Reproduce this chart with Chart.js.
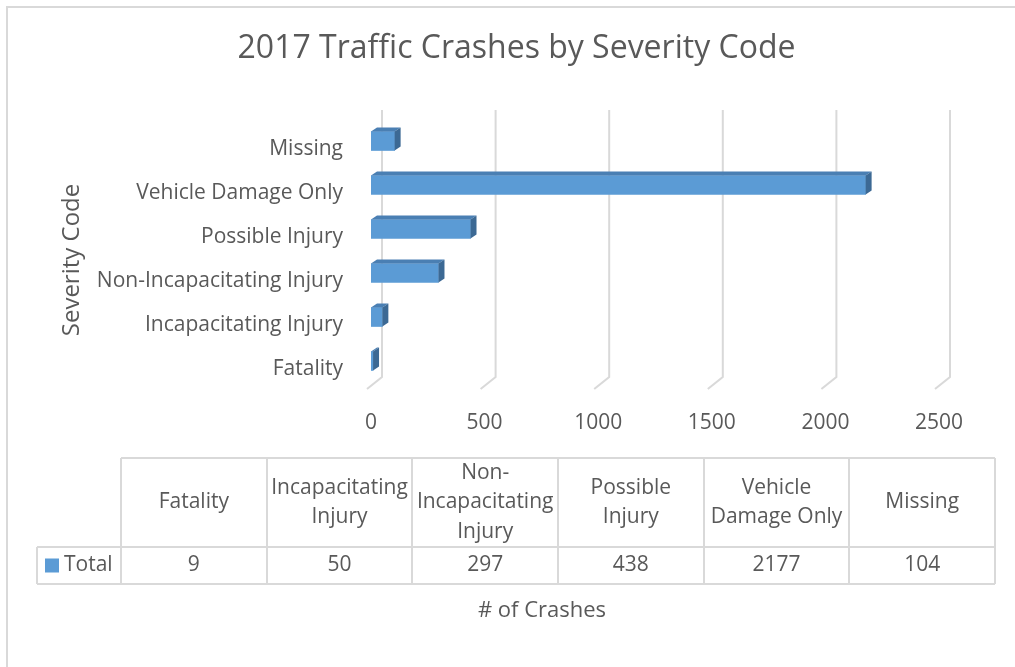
<!DOCTYPE html>
<html>
<head>
<meta charset="utf-8">
<title>2017 Traffic Crashes by Severity Code</title>
<script src="https://cdn.jsdelivr.net/npm/chart.js@4.4.1/dist/chart.umd.min.js"></script>
<style>
  html, body { margin: 0; padding: 0; background: #fff; }
  canvas { display: block; }
</style>
</head>
<body>
<canvas id="crashChart" width="1015" height="667"></canvas>
<script>
// chart data
const severityCodes = ['Fatality', 'Incapacitating Injury', 'Non-Incapacitating Injury', 'Possible Injury', 'Vehicle Damage Only', 'Missing'];
const crashTotals = [9, 50, 297, 438, 2177, 104];
const seriesName = 'Total';
const xTickValues = [0, 500, 1000, 1500, 2000, 2500];
const xAxisTitle = '# of Crashes';
const yAxisTitle = 'Severity Code';

// look
const textColor = '#595959';
const lineColor = '#d9d9d9';
const barFront = '#5b9bd5';
const barTop = '#4a7fb3';
const barSide = '#3c6994';
const fontFamily = '"Open Sans", sans-serif';

// 3d depth of the bars
const barDepthX = 6, barDepthY = -4;

// white background + chart frame (only top/left edges are visible)
const framePlugin = {
    id: 'frame',
    beforeDraw(chart) {
        const ctx = chart.ctx;
        ctx.save();
        ctx.fillStyle = '#fff';
        ctx.fillRect(0, 0, chart.width, chart.height);
        ctx.strokeStyle = lineColor;
        ctx.lineWidth = 2;
        ctx.beginPath();
        ctx.moveTo(7, chart.height);
        ctx.lineTo(7, 7);
        ctx.lineTo(chart.width, 7);
        ctx.stroke();
        ctx.restore();
    }
};

// slanted gridlines on the back wall
const wallGridPlugin = {
    id: 'wallGrid',
    beforeDatasetsDraw(chart) {
        const ctx = chart.ctx;
        const xScale = chart.scales.x;
        const area = chart.chartArea;
        ctx.save();
        ctx.strokeStyle = lineColor;
        ctx.lineWidth = 2;
        xTickValues.forEach(v => {
            const x = xScale.getPixelForValue(v);
            ctx.beginPath();
            ctx.moveTo(x + 11, area.top - 9);
            ctx.lineTo(x + 11, area.bottom - 6);
            ctx.lineTo(x - 4, area.bottom + 6);
            ctx.stroke();
        });
        ctx.restore();
    }
};

// top and side faces of each bar
const bar3dPlugin = {
    id: 'bar3d',
    afterDatasetsDraw(chart) {
        const ctx = chart.ctx;
        const meta = chart.getDatasetMeta(0);
        ctx.save();
        meta.data.forEach(bar => {
            const p = bar.getProps(['x', 'y', 'base', 'height'], true);
            const top = p.y - p.height / 2;
            const bottom = p.y + p.height / 2;
            ctx.fillStyle = barTop;
            ctx.beginPath();
            ctx.moveTo(p.base, top);
            ctx.lineTo(p.x, top);
            ctx.lineTo(p.x + barDepthX, top + barDepthY);
            ctx.lineTo(p.base + barDepthX, top + barDepthY);
            ctx.closePath();
            ctx.fill();
            ctx.fillStyle = barSide;
            ctx.beginPath();
            ctx.moveTo(p.x, top);
            ctx.lineTo(p.x + barDepthX, top + barDepthY);
            ctx.lineTo(p.x + barDepthX, bottom + barDepthY);
            ctx.lineTo(p.x, bottom);
            ctx.closePath();
            ctx.fill();
        });
        ctx.restore();
    }
};

// axis titles sit where Excel put them, not centred on the plot
const axisTitlesPlugin = {
    id: 'axisTitles',
    afterDraw(chart) {
        const ctx = chart.ctx;
        ctx.save();
        ctx.fillStyle = textColor;
        ctx.textAlign = 'center';
        ctx.textBaseline = 'middle';
        ctx.font = '22px ' + fontFamily;
        ctx.fillText(xAxisTitle, 542, 611);
        ctx.translate(72, 260);
        ctx.rotate(-Math.PI / 2);
        ctx.font = '24px ' + fontFamily;
        ctx.fillText(yAxisTitle, 0, 0);
        ctx.restore();
    }
};

function wrapLabel(ctx, text, maxWidth) {
    const tokens = text.replace(/-/g, '- ').split(' ').filter(t => t.length);
    const lines = [];
    let line = '';
    tokens.forEach(tok => {
        const joined = line === '' ? tok : (line.endsWith('-') ? line + tok : line + ' ' + tok);
        if (line !== '' && ctx.measureText(joined).width > maxWidth) {
            lines.push(line);
            line = tok;
        } else {
            line = joined;
        }
    });
    if (line) lines.push(line);
    return lines;
}

// data table under the plot
const dataTablePlugin = {
    id: 'dataTable',
    afterDraw(chart) {
        const ctx = chart.ctx;
        const left = 37, legendRight = 121, right = 995;
        const headTop = 458, headBottom = 547, rowBottom = 584;
        const colW = (right - legendRight) / severityCodes.length;
        const lineH = 29.5;

        ctx.save();
        ctx.strokeStyle = lineColor;
        ctx.lineWidth = 2;
        ctx.beginPath();
        ctx.moveTo(legendRight, headTop); ctx.lineTo(right, headTop);
        ctx.moveTo(left, headBottom); ctx.lineTo(right, headBottom);
        ctx.moveTo(left, rowBottom); ctx.lineTo(right, rowBottom);
        ctx.moveTo(left, headBottom); ctx.lineTo(left, rowBottom);
        for (let i = 0; i <= severityCodes.length; i++) {
            const x = Math.round(legendRight + i * colW);
            ctx.moveTo(x, headTop); ctx.lineTo(x, rowBottom);
        }
        ctx.stroke();

        ctx.fillStyle = textColor;
        ctx.font = '21px ' + fontFamily;
        ctx.textAlign = 'center';
        ctx.textBaseline = 'middle';
        const headMid = (headTop + headBottom) / 2;
        const rowMid = (headBottom + rowBottom) / 2;
        severityCodes.forEach((label, i) => {
            const cx = legendRight + (i + 0.5) * colW;
            const lines = wrapLabel(ctx, label, 140);
            lines.forEach((ln, j) => {
                ctx.fillText(ln, cx, headMid + (j - (lines.length - 1) / 2) * lineH);
            });
            ctx.fillText(String(crashTotals[i]), cx, rowMid);
        });

        // legend key
        ctx.fillStyle = barFront;
        ctx.fillRect(45, rowMid - 7, 14, 14);
        ctx.fillStyle = textColor;
        ctx.textAlign = 'left';
        ctx.fillText(seriesName, 64, rowMid);
        ctx.restore();
    }
};

new Chart(document.getElementById('crashChart'), {
    type: 'bar',
    data: {
        labels: severityCodes,
        datasets: [{
            label: seriesName,
            data: crashTotals,
            backgroundColor: barFront,
            borderWidth: 0,
            barThickness: 19
        }]
    },
    plugins: [framePlugin, wallGridPlugin, bar3dPlugin, axisTitlesPlugin, dataTablePlugin],
    options: {
        indexAxis: 'y',
        responsive: false,
        animation: false,
        devicePixelRatio: 1,
        layout: {
            padding: { top: 0, left: 18, right: 0, bottom: 0 }
        },
        plugins: {
            legend: { display: false },
            tooltip: { enabled: false },
            title: {
                display: true,
                text: '2017 Traffic Crashes by Severity Code',
                color: textColor,
                font: { family: fontFamily, size: 32, weight: 'normal' },
                padding: { top: 30, bottom: 50.6 }
            }
        },
        scales: {
            x: {
                type: 'linear',
                min: 0,
                max: 2500,
                grid: { display: false, drawTicks: false },
                border: { display: false },
                ticks: {
                    stepSize: 500,
                    padding: 27,
                    color: textColor,
                    font: { family: fontFamily, size: 21 },
                    callback: v => String(v)
                },
                afterFit: s => { s.height = 284; }
            },
            y: {
                type: 'category',
                reverse: true,
                offset: true,
                grid: { display: false, drawTicks: false },
                border: { display: false },
                ticks: {
                    padding: 28,
                    labelOffset: 8,
                    color: textColor,
                    font: { family: fontFamily, size: 21 }
                },
                afterFit: s => { s.width = 353; }
            },
            // empty strip on the right so the plot ends at 2500 like the original
            yRight: {
                type: 'category',
                position: 'right',
                grid: { display: false, drawTicks: false },
                border: { display: false },
                ticks: { display: false },
                afterFit: s => { s.width = 76; }
            }
        }
    }
});
</script>
</body>
</html>
